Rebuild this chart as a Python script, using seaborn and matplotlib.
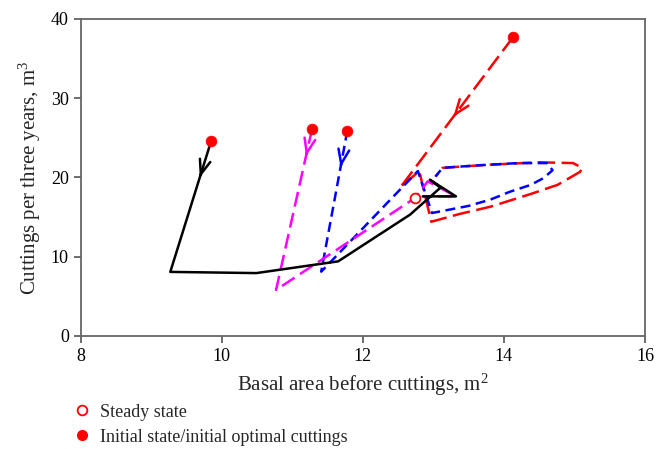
import numpy as np
import pandas as pd
import seaborn as sns
import matplotlib
matplotlib.use("Agg")
import matplotlib.pyplot as plt
from matplotlib.lines import Line2D

# ---------------- data ----------------
black_x = [9.85, 9.27, 10.49, 11.65, 12.67, 13.10, 12.95, 13.32, 12.85]
black_y = [24.6, 8.07, 7.92, 9.40, 15.3, 18.7, 19.7, 17.6, 17.6]

magenta_x = [11.28, 10.77, 12.74, 12.92, 13.32, 12.85]
magenta_y = [26.1, 5.8, 17.4, 19.5, 17.6, 17.6]

blue_x = [11.78, 11.41, 12.78, 12.98, 13.50, 13.81, 14.09, 14.38, 14.56, 14.69,
          14.61, 14.20, 13.60, 13.13, 13.03]
blue_y = [25.9, 8.1, 20.8, 15.5, 16.4, 17.2, 18.2, 19.05, 19.9, 20.9,
          21.8, 21.8, 21.5, 21.2, 20.1]

red_x = [14.13, 12.53, 12.80, 12.97, 13.38, 13.81, 14.38, 14.76, 15.08, 15.11,
         14.98, 14.50, 13.80, 13.13, 13.03]
red_y = [37.7, 18.7, 20.8, 14.4, 15.4, 16.3, 17.9, 19.05, 20.7, 21.2,
         21.8, 21.9, 21.6, 21.2, 20.1]

steady_x = [12.74]
steady_y = [17.4]

x_ticks = [8, 10, 12, 14, 16]
y_ticks = [0, 10, 20, 30, 40]

x_label = "Basal area before cuttings, m$^2$"
y_label = "Cuttings per three years, m$^3$"
legend_labels = ["Steady state", "Initial state/initial optimal cuttings"]

# ---------------- style ----------------
sns.set_style("ticks")
plt.rcParams["font.family"] = ["Liberation Serif", "DejaVu Serif"]
plt.rcParams["mathtext.fontset"] = "custom"
plt.rcParams["mathtext.rm"] = "Liberation Serif"
plt.rcParams["mathtext.it"] = "Liberation Serif:italic"

fig = plt.figure(figsize=(6.67, 4.49), dpi=100)
ax = fig.add_axes([0.121, 0.252, 0.846, 0.706])

series = [
    ("red", red_x, red_y, (7, 2.6)),
    ("blue", blue_x, blue_y, (4, 2.2)),
    ("magenta", magenta_x, magenta_y, (6, 2.6)),
    ("black", black_x, black_y, None),
]

arrow_frac = {"black": 0.28, "magenta": 0.17, "blue": 0.26, "red": 0.53}

for color, xs, ys, dash in series:
    df = pd.DataFrame({"x": xs, "y": ys})
    sns.lineplot(data=df, x="x", y="y", sort=False, estimator=None,
                 color=color, lw=1.8, ax=ax)
    line = ax.lines[-1]
    if dash is not None:
        line.set_dashes(dash)
    # arrow on the first segment
    f = arrow_frac[color]
    x0, y0, x1, y1 = xs[0], ys[0], xs[1], ys[1]
    tip = (x0 + f * (x1 - x0), y0 + f * (y1 - y0))
    tail = (x0 + (f - 0.02) * (x1 - x0), y0 + (f - 0.02) * (y1 - y0))
    ax.annotate("", xy=tip, xytext=tail,
                arrowprops=dict(arrowstyle="->,head_length=0.8,head_width=0.3",
                                color=color, lw=1.8, shrinkA=0, shrinkB=0,
                                mutation_scale=13))

init_df = pd.DataFrame({"x": [black_x[0], magenta_x[0], blue_x[0], red_x[0]],
                        "y": [black_y[0], magenta_y[0], blue_y[0], red_y[0]]})
sns.scatterplot(data=init_df, x="x", y="y", color="red", s=60,
                edgecolor="red", linewidth=0.5, ax=ax, zorder=5)
steady_df = pd.DataFrame({"x": steady_x, "y": steady_y})
sns.scatterplot(data=steady_df, x="x", y="y", facecolor="white", s=50,
                edgecolor="red", linewidth=1.3, ax=ax, zorder=6)

ax.set_xlim(8, 16)
ax.set_ylim(0, 40)
ax.set_xticks(x_ticks)
ax.set_yticks(y_ticks)
ax.set_xticklabels([str(v) for v in x_ticks])
ax.set_yticklabels([str(v) for v in y_ticks])
ax.tick_params(direction="out", length=5, width=1.2, colors="#555555",
               labelcolor="black", labelsize=13)
for side in ["top", "right", "bottom", "left"]:
    ax.spines[side].set_visible(True)
    ax.spines[side].set_color("#666666")
    ax.spines[side].set_linewidth(1.3)

ax.set_xlabel(x_label, fontsize=15, labelpad=5)
ax.set_ylabel(y_label, fontsize=15, labelpad=6)

handles = [
    Line2D([], [], ls="none", marker="o", markersize=7, markerfacecolor="white",
           markeredgecolor="red", markeredgewidth=1.3),
    Line2D([], [], ls="none", marker="o", markersize=7, markerfacecolor="red",
           markeredgecolor="red"),
]
fig.legend(handles, legend_labels, loc="upper left",
           bbox_to_anchor=(0.098, 0.117), frameon=False, fontsize=13,
           handletextpad=0.5, labelspacing=0.45, handlelength=1.0,
           borderaxespad=0)

fig.savefig("out.png", dpi=100)
